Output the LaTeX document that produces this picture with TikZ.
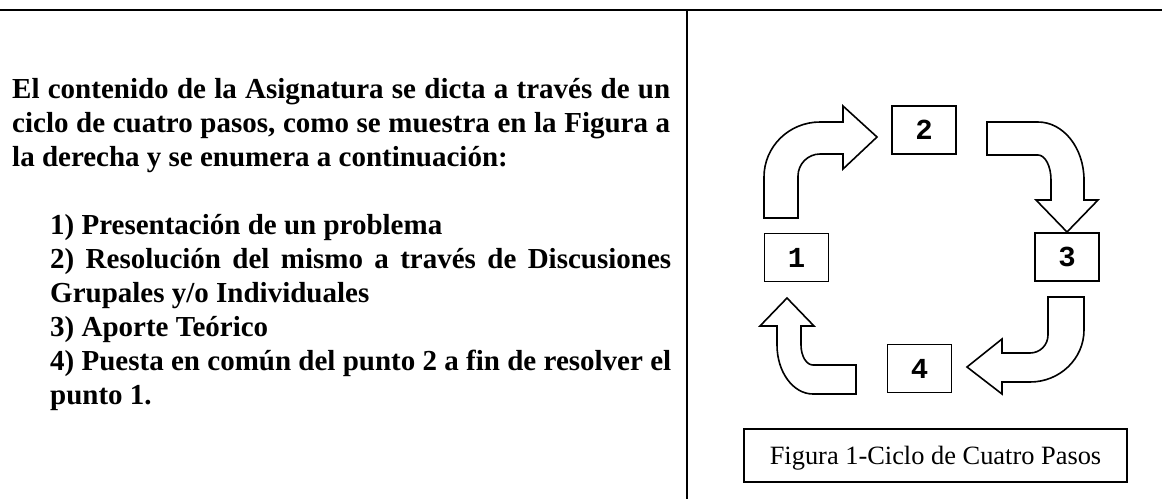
\documentclass[tikz,border=0pt]{standalone}
\usepackage{fontspec}
\setmainfont{Liberation Serif}
\setmonofont{Liberation Mono}
\hyphenpenalty=10000
\exhyphenpenalty=10000
\setlength{\parindent}{0pt}
\setlength{\parskip}{0pt}
\begin{document}
\begin{tikzpicture}[x=1pt,y=-1pt,
  rule/.style={line width=2.2pt},
  bodytext/.style={anchor=base west, align=justify, inner sep=0pt,
    font=\fontsize{29}{34}\selectfont\bfseries},
  numbox/.style={draw, line width=1.9pt, minimum width=64pt, minimum height=48pt,
    inner sep=0pt, font=\fontsize{29}{29}\selectfont\ttfamily\bfseries},
  caption/.style={draw, line width=1.7pt, minimum width=383pt, minimum height=53pt,
    inner sep=0pt, text height=18pt, text depth=0pt,
    font=\fontsize{26.4}{30}\selectfont},
  blockarrow/.style={draw, line width=1.6pt, fill=white, line join=miter}]
\useasboundingbox (0,0) rectangle (1162,499);
\fill[white] (0,0) rectangle (1162,499);

% frame lines
\coordinate (tl) at (0,10);
\coordinate (tr) at (1162,10);
\coordinate (dtop) at (687,10);
\coordinate (dbot) at (687,499);
\draw[rule] (tl) -- (tr);
\draw[rule] (dtop) -- (dbot);

% left text
\node[bodytext, text width=658pt] (intro) at (12,98)
 {El contenido de la Asignatura se dicta a través de un\linebreak
  ciclo de cuatro pasos, como se muestra en la Figura a\linebreak
  la derecha y se enumera a continuación:};
\node[bodytext, text width=621pt] (steps) at (50,234)
 {1) Presentación de un problema\par
  2) Resolución del mismo a través de Discusiones\linebreak
  Grupales y/o Individuales\par
  3) Aporte Teórico\par
  4) Puesta en común del punto 2 a fin de resolver el\linebreak
  punto 1.\par};

% number boxes
\node[numbox] (b2) at (924,130) {2};
\node[numbox] (b1) at (796.5,257.5) {1};
\node[numbox] (b3) at (1067,257) {3};
\node[numbox] (b4) at (919.5,368.5) {4};

% block arrows
% 1 -> 2
\draw[blockarrow] (798,218) -- (764,218) -- (764,177)
  .. controls (764,146.6) and (789,122) .. (820,122)
  -- (843,122) -- (843,106) -- (877,137) -- (843,169) -- (843,154) -- (820,154)
  .. controls (807.9,154) and (798,164) .. (798,176) -- cycle;
% 2 -> 3
\draw[blockarrow] (987,155) -- (987,122) -- (1038,122)
  .. controls (1063.4,122) and (1084,148) .. (1084,180)
  -- (1084,200) -- (1098,200) -- (1067,232) -- (1036,200) -- (1051,200) -- (1051,180)
  .. controls (1051,166.2) and (1045.2,155) .. (1038,155) -- cycle;
% 3 -> 4
\draw[blockarrow] (1048,297) -- (1084,297) -- (1084,330)
  .. controls (1084,358.7) and (1059.8,382) .. (1030,382)
  -- (1002,382) -- (1002,394) -- (967,367) -- (1002,339) -- (1002,353) -- (1030,353)
  .. controls (1040,353) and (1048,345) .. (1048,335) -- cycle;
% 4 -> 1
\draw[blockarrow] (856,394) -- (856,365) -- (813,365)
  .. controls (806.4,365) and (801,356) .. (801,345)
  -- (801,326) -- (814,326) -- (787,298) -- (760,326) -- (777,326) -- (777,345)
  .. controls (777,372) and (793.1,394) .. (813,394) -- cycle;

% caption
\node[caption] (cap) at (935.5,455.5) {Figura 1-Ciclo de Cuatro Pasos};
\end{tikzpicture}
\end{document}
